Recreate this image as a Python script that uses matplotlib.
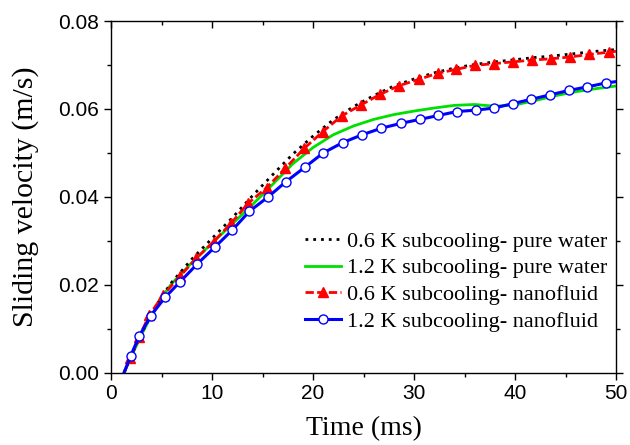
import matplotlib
matplotlib.use("Agg")
import matplotlib.pyplot as plt
from matplotlib.ticker import MultipleLocator, FormatStrFormatter

# ---- data (time in ms, velocity in m/s) ----
t_pw06 = [1.3, 2, 3, 4, 5, 6, 8, 10, 12, 14, 16, 18, 20, 22, 24, 26, 28, 30,
          32, 34, 36, 38, 40, 42, 44, 46, 48, 50]
v_pw06 = [0.0, 0.0038, 0.0088, 0.0133, 0.0172, 0.0205, 0.0258, 0.0305, 0.0352,
          0.0402, 0.0450, 0.0497, 0.0538, 0.0575, 0.0605, 0.0630, 0.0652, 0.0668,
          0.0682, 0.0693, 0.0701, 0.0707, 0.0712, 0.0717, 0.0721, 0.0726, 0.0731, 0.0735]

t_pw12 = [1.3, 2, 3, 4, 5, 6, 8, 10, 12, 14, 16, 18, 20, 22, 24, 26, 28, 30,
          32, 34, 36, 38, 40, 42, 44, 46, 48, 50]
v_pw12 = [0.0, 0.0036, 0.0085, 0.0130, 0.0170, 0.0202, 0.0250, 0.0294, 0.0338,
          0.0382, 0.0428, 0.0475, 0.0512, 0.0541, 0.0561, 0.0576, 0.0587, 0.0595,
          0.0602, 0.0608, 0.0610, 0.0606, 0.0609, 0.0619, 0.0630, 0.0639, 0.0646, 0.0652]

t_nf06 = [1.3, 1.93, 2.77, 3.78, 5.15, 6.83, 8.45, 10.16, 11.9, 13.57, 15.43, 17.27,
          19.12, 20.96, 22.84, 24.75, 26.63, 28.54, 30.46, 32.34, 34.19, 36.03,
          37.91, 39.79, 41.67, 43.55, 45.43, 47.35, 49.26, 50]
v_nf06 = [0.0, 0.0034, 0.0080, 0.0130, 0.0176, 0.0219, 0.0260, 0.0298, 0.0340,
          0.0385, 0.0421, 0.0465, 0.0510, 0.0548, 0.0584, 0.0609, 0.0633, 0.0653,
          0.0667, 0.0681, 0.0690, 0.0699, 0.0703, 0.0707, 0.0711, 0.0714, 0.0718,
          0.0724, 0.0729, 0.0731]

t_nf12 = [1.3, 1.95, 2.80, 3.93, 5.35, 6.86, 8.54, 10.26, 12.0, 13.71, 15.52, 17.31,
          19.18, 21.03, 22.92, 24.85, 26.77, 28.68, 30.57, 32.41, 34.25, 36.10,
          37.94, 39.79, 41.63, 43.49, 45.33, 47.14, 48.99, 50]
v_nf12 = [0.0, 0.0038, 0.0083, 0.0129, 0.0171, 0.0207, 0.0247, 0.0285, 0.0324,
          0.0367, 0.0399, 0.0434, 0.0467, 0.0500, 0.0523, 0.0541, 0.0556, 0.0567,
          0.0576, 0.0585, 0.0594, 0.0597, 0.0602, 0.0612, 0.0622, 0.0632, 0.0642,
          0.0650, 0.0659, 0.0662]

labels = ["0.6 K subcooling- pure water", "1.2 K subcooling- pure water",
          "0.6 K subcooling- nanofluid", "1.2 K subcooling- nanofluid"]

fig = plt.figure(figsize=(6.3, 4.45), dpi=100)
ax = fig.add_axes([0.1762, 0.1629, 0.8016, 0.7899])

ax.plot(t_pw06, v_pw06, color="black", lw=2.0, linestyle=(0, (1.0, 1.8)),
        label=labels[0], zorder=3)
ax.plot(t_pw12, v_pw12, color="#00e000", lw=2.0, label=labels[1], zorder=2)
ax.plot(t_nf06, v_nf06, color="red", lw=2.0, linestyle=(0, (3.0, 1.2)),
        marker="^", markersize=7.5, markerfacecolor="red", markeredgecolor="red",
        markevery=list(range(1, len(t_nf06) - 1)), label=labels[2], zorder=4)
ax.plot(t_nf12, v_nf12, color="#0000ff", lw=2.2,
        marker="o", markersize=6.5, markerfacecolor="white", markeredgecolor="#0000ff",
        markeredgewidth=1.0, markevery=list(range(1, len(t_nf12) - 1)),
        label=labels[3], zorder=5)

ax.set_xlim(0, 50)
ax.set_ylim(0, 0.08)
ax.xaxis.set_major_locator(MultipleLocator(10))
ax.xaxis.set_minor_locator(MultipleLocator(5))
ax.yaxis.set_major_locator(MultipleLocator(0.02))
ax.yaxis.set_minor_locator(MultipleLocator(0.01))
ax.yaxis.set_major_formatter(FormatStrFormatter("%.2f"))

ax.tick_params(which="both", direction="out", top=True, right=True,
               labeltop=False, labelright=False, width=1.0, color="black")
ax.tick_params(which="major", length=5)
ax.tick_params(which="minor", length=3)
for t in ax.xaxis.get_major_ticks() + ax.xaxis.get_minor_ticks():
    t.tick2line.set_marker(3)  # top ticks pointing inward
for lab in ax.get_xticklabels() + ax.get_yticklabels():
    lab.set_fontfamily("Liberation Sans")
    lab.set_fontsize(15)
for sp in ax.spines.values():
    sp.set_linewidth(1.0)

ax.set_xlabel("Time (ms)", fontfamily="Liberation Serif", fontsize=20, labelpad=9)
ax.set_ylabel("Sliding velocity (m/s)", fontfamily="Liberation Serif", fontsize=21.5,
              labelpad=14)

leg = ax.legend(loc="lower right", bbox_to_anchor=(1.0, 0.09), frameon=False,
                prop={"family": "Liberation Serif", "size": 16},
                handlelength=1.65, handletextpad=0.25, labelspacing=0.28,
                borderaxespad=0.0)

fig.savefig("out.png", dpi=100)
